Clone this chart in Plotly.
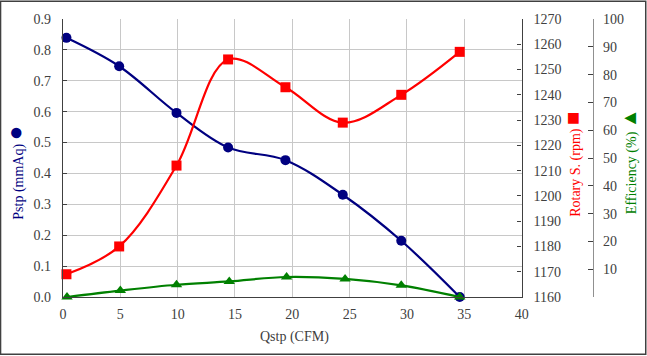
import plotly.graph_objects as go

# ---- data ----
qstp = [0.3, 4.9, 9.9, 14.4, 19.4, 24.4, 29.5, 34.6]
pstp = [0.839, 0.747, 0.596, 0.484, 0.443, 0.331, 0.182, 0.0]
rotary = [1169, 1180, 1212, 1254, 1243, 1229, 1240, 1257]
eff_x = [0.35, 5.0, 9.9, 14.5, 19.5, 24.6, 29.5, 34.6]
efficiency = [0.0, 2.3, 4.4, 5.6, 7.2, 6.5, 4.2, 0.0]

x_ticks = [0, 5, 10, 15, 20, 25, 30, 35, 40]
p_ticks = [0.0, 0.1, 0.2, 0.3, 0.4, 0.5, 0.6, 0.7, 0.8, 0.9]
p_ticktext = ["0.0", "0.1", "0.2", "0.3", "0.4", "0.5", "0.6", "0.7", "0.8", "0.9"]
r_ticks = list(range(1160, 1271, 10))
e_ticks = list(range(0, 101, 10))
e_ticktext = [""] + [str(v) for v in e_ticks[1:]]

W, H = 647, 356
L, R_PLOT, R_EFF, T, B = 63.4, 521.7, 593.0, 18.7, 297.0

def px_x(p):
    return (p - L) / (R_EFF - L)

def px_y(p):
    return (B - p) / (B - T)

FONT = "Liberation Serif"
GRAY = "#404040"
NAVY = "#000080"
RED = "#FF0000"
GREEN = "#008000"

fig = go.Figure()
fig.add_trace(go.Scatter(
    x=qstp, y=pstp, mode="lines+markers", yaxis="y",
    line=dict(color=NAVY, width=2.2, shape="spline", smoothing=1.0),
    marker=dict(symbol="circle", size=10, color=NAVY),
    cliponaxis=False, showlegend=False))
fig.add_trace(go.Scatter(
    x=qstp, y=rotary, mode="lines+markers", yaxis="y2",
    line=dict(color=RED, width=2.2, shape="spline", smoothing=1.0),
    marker=dict(symbol="square", size=10, color=RED),
    cliponaxis=False, showlegend=False))
fig.add_trace(go.Scatter(
    x=eff_x, y=efficiency, mode="lines+markers", yaxis="y3",
    line=dict(color=GREEN, width=2.2, shape="spline", smoothing=1.0),
    marker=dict(symbol="triangle-up", size=10, color=GREEN),
    cliponaxis=False, showlegend=False))

tickfont = dict(family=FONT, size=14, color=GRAY)

fig.update_layout(
    width=W, height=H,
    margin=dict(l=L, r=W - R_EFF, t=T, b=H - B, pad=0, autoexpand=False),
    paper_bgcolor="white", plot_bgcolor="white",
    font=dict(family=FONT, size=14, color=GRAY),
    xaxis=dict(
        domain=[0, (R_PLOT - L) / (R_EFF - L)],
        range=[0, 40], tickvals=x_ticks, ticks="",
        showgrid=True, gridcolor="#c8c8c8", gridwidth=1,
        showline=True, linecolor=GRAY, linewidth=1.3,
        tickfont=tickfont, ticklabelstandoff=4, zeroline=False),
    yaxis=dict(
        range=[0, 0.9], tickvals=p_ticks, ticktext=p_ticktext,
        ticks="inside", ticklen=4, tickcolor=GRAY,
        showgrid=True, gridcolor="#c8c8c8", gridwidth=1,
        showline=True, linecolor=GRAY, linewidth=1.3,
        tickfont=tickfont, ticklabelstandoff=8, zeroline=False),
    yaxis2=dict(
        range=[1160, 1270], tickvals=r_ticks, overlaying="y", side="right",
        anchor="x", ticks="inside", ticklen=4, tickcolor=GRAY,
        showgrid=False, showline=True, linecolor=GRAY, linewidth=1.3,
        tickfont=tickfont, ticklabelstandoff=8, zeroline=False),
    yaxis3=dict(
        range=[0, 100], tickvals=e_ticks, ticktext=e_ticktext,
        overlaying="y", side="right", anchor="free", position=1,
        ticks="inside", ticklen=5, tickcolor=GRAY,
        showgrid=False, showline=True, linecolor="#909090", linewidth=1.3,
        tickfont=tickfont, ticklabelstandoff=6, zeroline=False),
)

fig.add_annotation(
    x=px_x(16), y=px_y(173), xref="paper", yref="paper",
    text="Pstp (mmAq) <span style='font-size:24px'>●</span>", textangle=-90,
    showarrow=False, xanchor="center", yanchor="middle",
    font=dict(family=FONT, size=14, color=NAVY))
fig.add_annotation(
    x=px_x(571.7), y=px_y(164), xref="paper", yref="paper",
    text="Rotary S. (rpm) <span style='font-size:22px'>■</span>", textangle=-90,
    showarrow=False, xanchor="center", yanchor="middle",
    font=dict(family=FONT, size=14, color=RED))
fig.add_annotation(
    x=px_x(629), y=px_y(161), xref="paper", yref="paper",
    text="Efficiency (%) <span style='font-size:20px'>▲</span>", textangle=-90,
    showarrow=False, xanchor="center", yanchor="middle",
    font=dict(family=FONT, size=14, color=GREEN))
fig.add_annotation(
    x=px_x(295), y=px_y(337), xref="paper", yref="paper",
    text="Qstp (CFM)", showarrow=False, xanchor="center", yanchor="middle",
    font=dict(family=FONT, size=14, color=GRAY))

fig.add_shape(
    type="rect", xref="paper", yref="paper", layer="above",
    x0=px_x(1), x1=px_x(645.7), y0=px_y(354.3), y1=px_y(1),
    line=dict(color=GRAY, width=1.5), fillcolor="rgba(0,0,0,0)")

fig.write_html("out.html", config={"displayModeBar": False},
               post_script="document.body.style.margin='0';document.body.style.overflow='hidden';")
